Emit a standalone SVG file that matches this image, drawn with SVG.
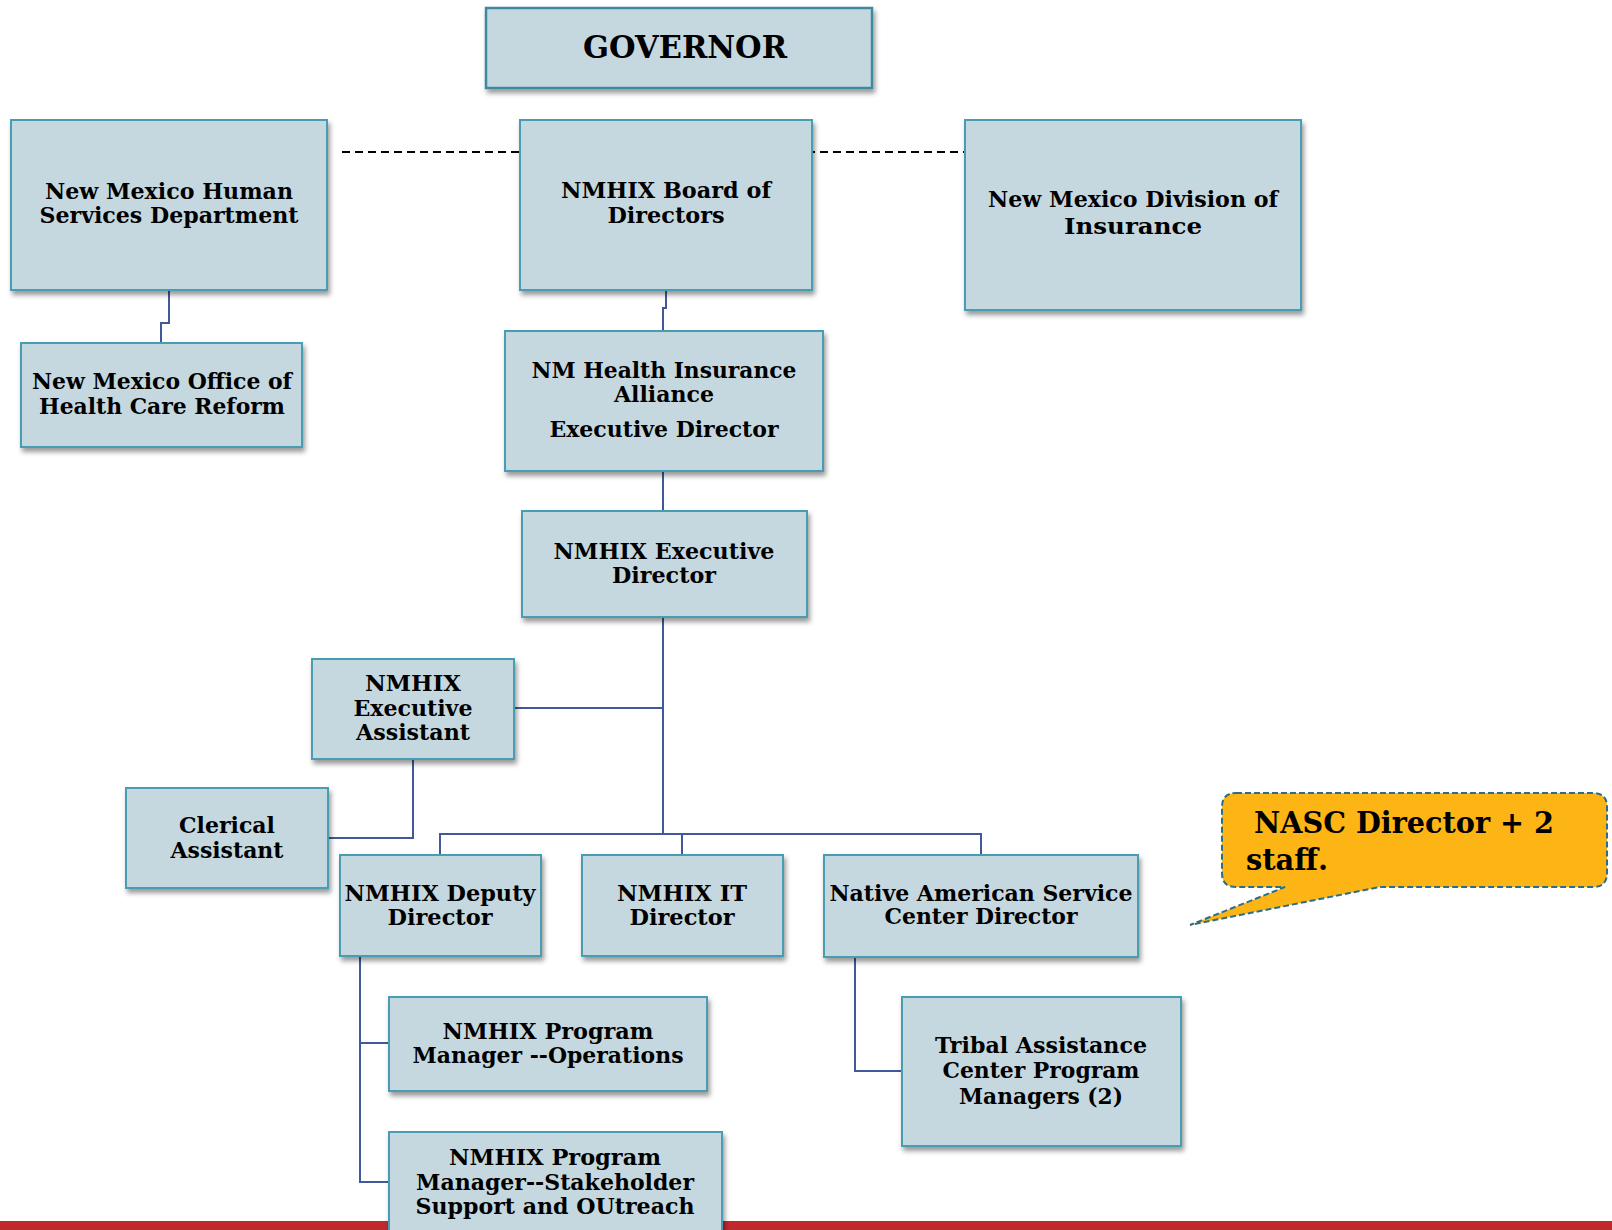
<svg xmlns="http://www.w3.org/2000/svg" width="1612" height="1230" viewBox="0 0 1612 1230">
<defs>
<filter id="sh" x="-10%" y="-10%" width="130%" height="140%">
<feDropShadow dx="2" dy="4" stdDeviation="2.5" flood-color="#000" flood-opacity="0.4"/>
</filter>
<style>
.box{fill:#C6D8DF;stroke:#4A9DB3;stroke-width:2;filter:url(#sh)}
.t{font-family:"DejaVu Serif","Liberation Serif",serif;font-weight:bold;font-size:22px;fill:#000;text-anchor:middle}
.c{fill:none;stroke:#41599A;stroke-width:2}
.d{fill:none;stroke:#000;stroke-width:2;stroke-dasharray:8,5}
</style>
</defs>
<rect x="0" y="1221" width="1612" height="9" fill="#C0282D"/>
<g id="connectors">
<path class="d" d="M342,152 H520"/>
<path class="d" d="M807,152 H965"/>
<path class="c" d="M169,290 V323 H161 V343"/>
<path class="c" d="M666,290 V308 H663 V331"/>
<path class="c" d="M663,471 V511"/>
<path class="c" d="M663,617 V834"/>
<path class="c" d="M514,708 H663"/>
<path class="c" d="M413,759 V838 H328"/>
<path class="c" d="M440,855 V834 H981 V855"/>
<path class="c" d="M682,834 V855"/>
<path class="c" d="M360,956 V1182 H389"/>
<path class="c" d="M360,1043 H389"/>
<path class="c" d="M855,957 V1071 H902"/>
</g>
<g id="governor">
<rect class="box" x="486" y="8" width="386" height="80" style="stroke:#3E8AA0;stroke-width:2.5"/>
<text class="t" x="685" y="58" font-size="32" style="font-size:32px" textLength="204" lengthAdjust="spacingAndGlyphs">GOVERNOR</text>
</g>
<g id="hsd">
<rect class="box" x="11" y="120" width="316" height="170"/>
<text class="t" x="169" y="199" textLength="248" lengthAdjust="spacingAndGlyphs">New Mexico Human</text>
<text class="t" x="169" y="223" textLength="259" lengthAdjust="spacingAndGlyphs">Services Department</text>
</g>
<g id="ohcr">
<rect class="box" x="21" y="343" width="281" height="104"/>
<text class="t" x="162" y="389" textLength="260" lengthAdjust="spacingAndGlyphs">New Mexico Office of</text>
<text class="t" x="162" y="414" textLength="246" lengthAdjust="spacingAndGlyphs">Health Care Reform</text>
</g>
<g id="board">
<rect class="box" x="520" y="120" width="292" height="170"/>
<text class="t" x="666" y="198" textLength="210" lengthAdjust="spacingAndGlyphs">NMHIX Board of</text>
<text class="t" x="666" y="223" textLength="117" lengthAdjust="spacingAndGlyphs">Directors</text>
</g>
<g id="doi">
<rect class="box" x="965" y="120" width="336" height="190"/>
<text class="t" x="1133" y="207" textLength="290" lengthAdjust="spacingAndGlyphs">New Mexico Division of</text>
<text class="t" x="1133" y="234" textLength="138" lengthAdjust="spacingAndGlyphs">Insurance</text>
</g>
<g id="alliance">
<rect class="box" x="505" y="331" width="318" height="140"/>
<text class="t" x="664" y="378" textLength="265" lengthAdjust="spacingAndGlyphs">NM Health Insurance</text>
<text class="t" x="664" y="402" textLength="100" lengthAdjust="spacingAndGlyphs">Alliance</text>
<text class="t" x="664" y="437" textLength="229" lengthAdjust="spacingAndGlyphs">Executive Director</text>
</g>
<g id="execdir">
<rect class="box" x="522" y="511" width="285" height="106"/>
<text class="t" x="664" y="559" textLength="221" lengthAdjust="spacingAndGlyphs">NMHIX Executive</text>
<text class="t" x="664" y="583" textLength="104" lengthAdjust="spacingAndGlyphs">Director</text>
</g>
<g id="execasst">
<rect class="box" x="312" y="659" width="202" height="100"/>
<text class="t" x="413" y="691" textLength="96" lengthAdjust="spacingAndGlyphs">NMHIX</text>
<text class="t" x="413" y="716" textLength="119" lengthAdjust="spacingAndGlyphs">Executive</text>
<text class="t" x="413" y="740" textLength="114" lengthAdjust="spacingAndGlyphs">Assistant</text>
</g>
<g id="clerical">
<rect class="box" x="126" y="788" width="202" height="100"/>
<text class="t" x="227" y="833" textLength="96" lengthAdjust="spacingAndGlyphs">Clerical</text>
<text class="t" x="227" y="858" textLength="113" lengthAdjust="spacingAndGlyphs">Assistant</text>
</g>
<g id="deputy">
<rect class="box" x="340" y="855" width="201" height="101"/>
<text class="t" x="440" y="901" textLength="191" lengthAdjust="spacingAndGlyphs">NMHIX Deputy</text>
<text class="t" x="440" y="925" textLength="105" lengthAdjust="spacingAndGlyphs">Director</text>
</g>
<g id="it">
<rect class="box" x="582" y="855" width="201" height="101"/>
<text class="t" x="682" y="901" textLength="130" lengthAdjust="spacingAndGlyphs">NMHIX IT</text>
<text class="t" x="682" y="925" textLength="105" lengthAdjust="spacingAndGlyphs">Director</text>
</g>
<g id="nasc">
<rect class="box" x="824" y="855" width="314" height="102"/>
<text class="t" x="981" y="901" textLength="303" lengthAdjust="spacingAndGlyphs">Native American Service</text>
<text class="t" x="981" y="924" textLength="193" lengthAdjust="spacingAndGlyphs">Center Director</text>
</g>
<g id="pmops">
<rect class="box" x="389" y="997" width="318" height="94"/>
<text class="t" x="548" y="1039" textLength="211" lengthAdjust="spacingAndGlyphs">NMHIX Program</text>
<text class="t" x="548" y="1063" textLength="271" lengthAdjust="spacingAndGlyphs">Manager --Operations</text>
</g>
<g id="pmstake">
<rect class="box" x="389" y="1132" width="333" height="110"/>
<text class="t" x="555" y="1165" textLength="212" lengthAdjust="spacingAndGlyphs">NMHIX Program</text>
<text class="t" x="555" y="1190" textLength="278" lengthAdjust="spacingAndGlyphs">Manager--Stakeholder</text>
<text class="t" x="555" y="1214" textLength="279" lengthAdjust="spacingAndGlyphs">Support and OUtreach</text>
</g>
<g id="tribal">
<rect class="box" x="902" y="997" width="279" height="149"/>
<text class="t" x="1041" y="1053" textLength="212" lengthAdjust="spacingAndGlyphs">Tribal Assistance</text>
<text class="t" x="1041" y="1078" textLength="197" lengthAdjust="spacingAndGlyphs">Center Program</text>
<text class="t" x="1041" y="1104" textLength="164" lengthAdjust="spacingAndGlyphs">Managers (2)</text>
</g>
<g id="callout">
<path d="M1236,793 H1593 Q1607,793 1607,807 V873 Q1607,887 1593,887 H1380 L1190,925 L1285,887 H1236 Q1222,887 1222,873 V807 Q1222,793 1236,793 Z" fill="#FDB515" stroke="#2A6F8A" stroke-width="2" stroke-dasharray="6,3"/>
<text class="t" x="1254" y="833" style="font-size:30px;text-anchor:start" textLength="300" lengthAdjust="spacingAndGlyphs">NASC Director + 2</text>
<text class="t" x="1246" y="870" style="font-size:30px;text-anchor:start" textLength="82" lengthAdjust="spacingAndGlyphs">staff.</text>
</g>
</svg>
